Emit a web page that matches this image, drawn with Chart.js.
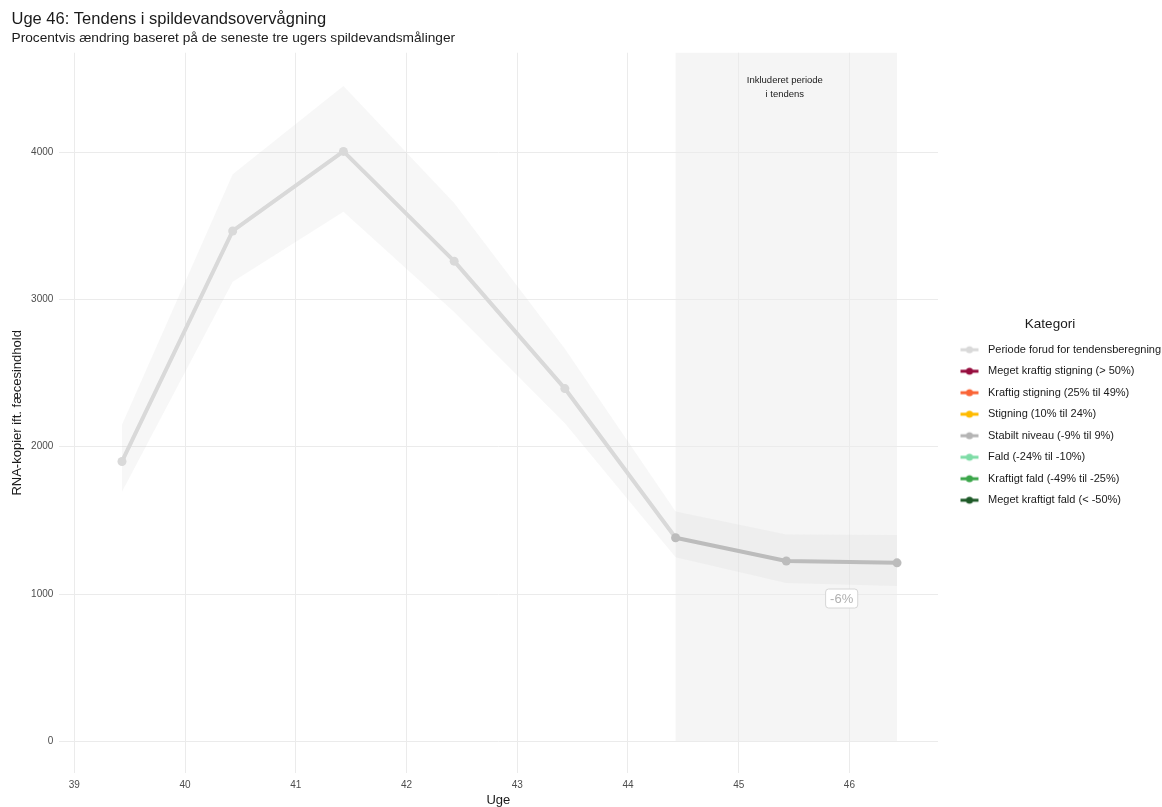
<!DOCTYPE html>
<html lang="da">
<head>
<meta charset="utf-8">
<title>Uge 46: Tendens i spildevandsovervågning</title>
<script src="https://cdn.jsdelivr.net/npm/chart.js@4/dist/chart.umd.min.js"></script>
<style>
  html, body { margin: 0; padding: 0; background: #ffffff; }
  canvas { display: block; }
</style>
</head>
<body>
<canvas id="chart" width="1162" height="807"></canvas>
<script>
// Weekly samples, plotted mid-week
const sampleWeeks = [39.43, 40.43, 41.43, 42.43, 43.43, 44.43, 45.43, 46.43];
const rnaCopies   = [1900, 3465, 4005, 3260, 2395, 1382, 1224, 1212];
const bandUpper   = [2150, 3850, 4450, 3655, 2665, 1560, 1405, 1400];
const bandLower   = [1695, 3120, 3595, 2915, 2160, 1250, 1075, 1055];
const trendStart  = 5;            // first sample inside the trend window
const trendLabel  = '-6%';

const weekTicks  = [39, 40, 41, 42, 43, 44, 45, 46];
const valueTicks = [0, 1000, 2000, 3000, 4000];

const categories = [
  'Periode forud for tendensberegning',
  'Meget kraftig stigning (> 50%)',
  'Kraftig stigning (25% til 49%)',
  'Stigning (10% til 24%)',
  'Stabilt niveau (-9% til 9%)',
  'Fald (-24% til -10%)',
  'Kraftigt fald (-49% til -25%)',
  'Meget kraftigt fald (< -50%)'
];
const categoryColors = ['#d9d9d9', '#960d3e', '#fa6436', '#ffbb00', '#b4b4b4', '#7edca6', '#3ba64a', '#1e5a28'];

const preColor       = categoryColors[0];
const trendColor     = '#bcbcbc';
const bandFill       = 'rgba(200,200,200,0.15)';
const windowFill     = '#f5f5f5';
const textColor      = '#1a1a1a';
const tickColor      = '#4d4d4d';
const gridColor      = '#ebebeb';

Chart.defaults.font.family = "'Liberation Sans', Arial, sans-serif";

// Legend key: short line with a dot in the middle
function legendKey(color) {
  const c = document.createElement('canvas');
  c.width = 34; c.height = 12;
  const g = c.getContext('2d');
  g.strokeStyle = color;
  g.fillStyle = color;
  g.lineWidth = 3;
  g.beginPath(); g.moveTo(12, 6); g.lineTo(30, 6); g.stroke();
  g.beginPath(); g.arc(21, 6, 3.5, 0, Math.PI * 2); g.fill();
  return c;
}
const legendKeys = categoryColors.map(legendKey);

// Shaded trend window, its caption and the change label
const trendWindow = {
  id: 'trendWindow',
  beforeDraw(chart) {
    const { ctx, chartArea, scales: { x, y } } = chart;
    const x0 = x.getPixelForValue(sampleWeeks[trendStart]);
    const x1 = x.getPixelForValue(sampleWeeks[sampleWeeks.length - 1]);
    const yb = y.getPixelForValue(0);
    ctx.save();
    ctx.fillStyle = windowFill;
    ctx.fillRect(x0, chartArea.top, x1 - x0, yb - chartArea.top);
    ctx.restore();
  },
  afterDatasetsDraw(chart) {
    const { ctx, chartArea, scales: { x, y } } = chart;
    const x0 = x.getPixelForValue(sampleWeeks[trendStart]);
    const x1 = x.getPixelForValue(sampleWeeks[sampleWeeks.length - 1]);
    const cx = (x0 + x1) / 2;
    ctx.save();
    ctx.fillStyle = textColor;
    ctx.font = "9.5px 'Liberation Sans', Arial, sans-serif";
    ctx.textAlign = 'center';
    ctx.textBaseline = 'middle';
    ctx.fillText('Inkluderet periode', cx - 1.5, chartArea.top + 27.5);
    ctx.fillText('i tendens', cx - 1.5, chartArea.top + 41.5);

    // change label below the last sample
    const last = sampleWeeks.length - 1;
    const lx = x.getPixelForValue(sampleWeeks[last] - 0.5);
    const ly = y.getPixelForValue(rnaCopies[last] * 0.8);
    ctx.font = "13px 'Liberation Sans', Arial, sans-serif";
    const w = ctx.measureText(trendLabel).width + 9;
    const h = 19;
    ctx.beginPath();
    ctx.roundRect(lx - w / 2, ly - h / 2, w, h, 3);
    ctx.fillStyle = '#ffffff';
    ctx.fill();
    ctx.strokeStyle = '#d6d6d6';
    ctx.lineWidth = 1;
    ctx.stroke();
    ctx.fillStyle = '#b0b0b0';
    ctx.fillText(trendLabel, lx, ly + 0.5);
    ctx.restore();
  }
};

const pts = vals => sampleWeeks.map((w, i) => ({ x: w, y: vals[i] }));

new Chart(document.getElementById('chart'), {
  type: 'line',
  data: {
    datasets: [
      { label: 'Øvre', data: pts(bandUpper), order: 2, borderWidth: 0, pointRadius: 0, fill: false },
      { label: 'Nedre', data: pts(bandLower), order: 1, borderWidth: 0, pointRadius: 0, fill: 0, backgroundColor: bandFill },
      {
        label: 'RNA-kopier',
        data: pts(rnaCopies),
        order: 0,
        borderWidth: 4,
        borderColor: preColor,
        borderJoinStyle: 'round',
        borderCapStyle: 'round',
        segment: { borderColor: c => (c.p0DataIndex >= trendStart ? trendColor : preColor) },
        pointRadius: 4.5,
        pointBorderWidth: 0,
        pointBackgroundColor: rnaCopies.map((_, i) => (i >= trendStart ? trendColor : preColor)),
        fill: false,
        tension: 0
      }
    ]
  },
  options: {
    responsive: false,
    animation: false,
    events: [],
    layout: { padding: { left: 11.5 } },
    scales: {
      x: {
        type: 'linear',
        min: 38.858,
        max: 46.80,
        afterBuildTicks: s => { s.ticks = weekTicks.map(v => ({ value: v })); },
        grid: { color: gridColor, drawTicks: false },
        border: { display: false },
        ticks: { padding: 6, color: tickColor, font: { size: 10 }, autoSkip: false, maxRotation: 0, callback: v => String(v) },
        title: { display: true, text: 'Uge', color: textColor, font: { size: 13 }, padding: { top: -4.8, bottom: -0.8 } }
      },
      y: {
        type: 'linear',
        min: -215,
        max: 4675,
        afterBuildTicks: s => { s.ticks = valueTicks.map(v => ({ value: v })); },
        grid: { color: gridColor, drawTicks: false },
        border: { display: false },
        ticks: { padding: 5.3, color: tickColor, font: { size: 10 }, callback: v => String(v) },
        title: { display: true, text: 'RNA-kopier ift. fæcesindhold', color: textColor, font: { size: 13 }, padding: { top: -1.8, bottom: 0.5 } }
      }
    },
    plugins: {
      filler: { drawTime: 'beforeDatasetsDraw' },
      tooltip: { enabled: false },
      title: {
        display: true,
        text: 'Uge 46: Tendens i spildevandsovervågning',
        align: 'start',
        color: textColor,
        font: { size: 16.5, weight: 'normal' },
        padding: { top: 9.5, bottom: 0 }
      },
      subtitle: {
        display: true,
        text: 'Procentvis ændring baseret på de seneste tre ugers spildevandsmålinger',
        align: 'start',
        color: textColor,
        font: { size: 13.7, weight: 'normal' },
        padding: { top: 0.5, bottom: 6.5 }
      },
      legend: {
        position: 'right',
        fullSize: false,
        maxWidth: 224,
        onClick: null,
        title: { display: true, text: 'Kategori', color: textColor, font: { size: 13.5 }, padding: { top: 8, bottom: 0 } },
        labels: {
          usePointStyle: true,
          pointStyleWidth: 34,
          padding: 10.5,
          color: textColor,
          font: { size: 11 },
          generateLabels: () => categories.map((text, i) => ({
            text,
            pointStyle: legendKeys[i],
            fillStyle: categoryColors[i],
            strokeStyle: categoryColors[i],
            lineWidth: 0,
            hidden: false,
            fontColor: textColor
          }))
        }
      }
    }
  },
  plugins: [trendWindow]
});
</script>
</body>
</html>
